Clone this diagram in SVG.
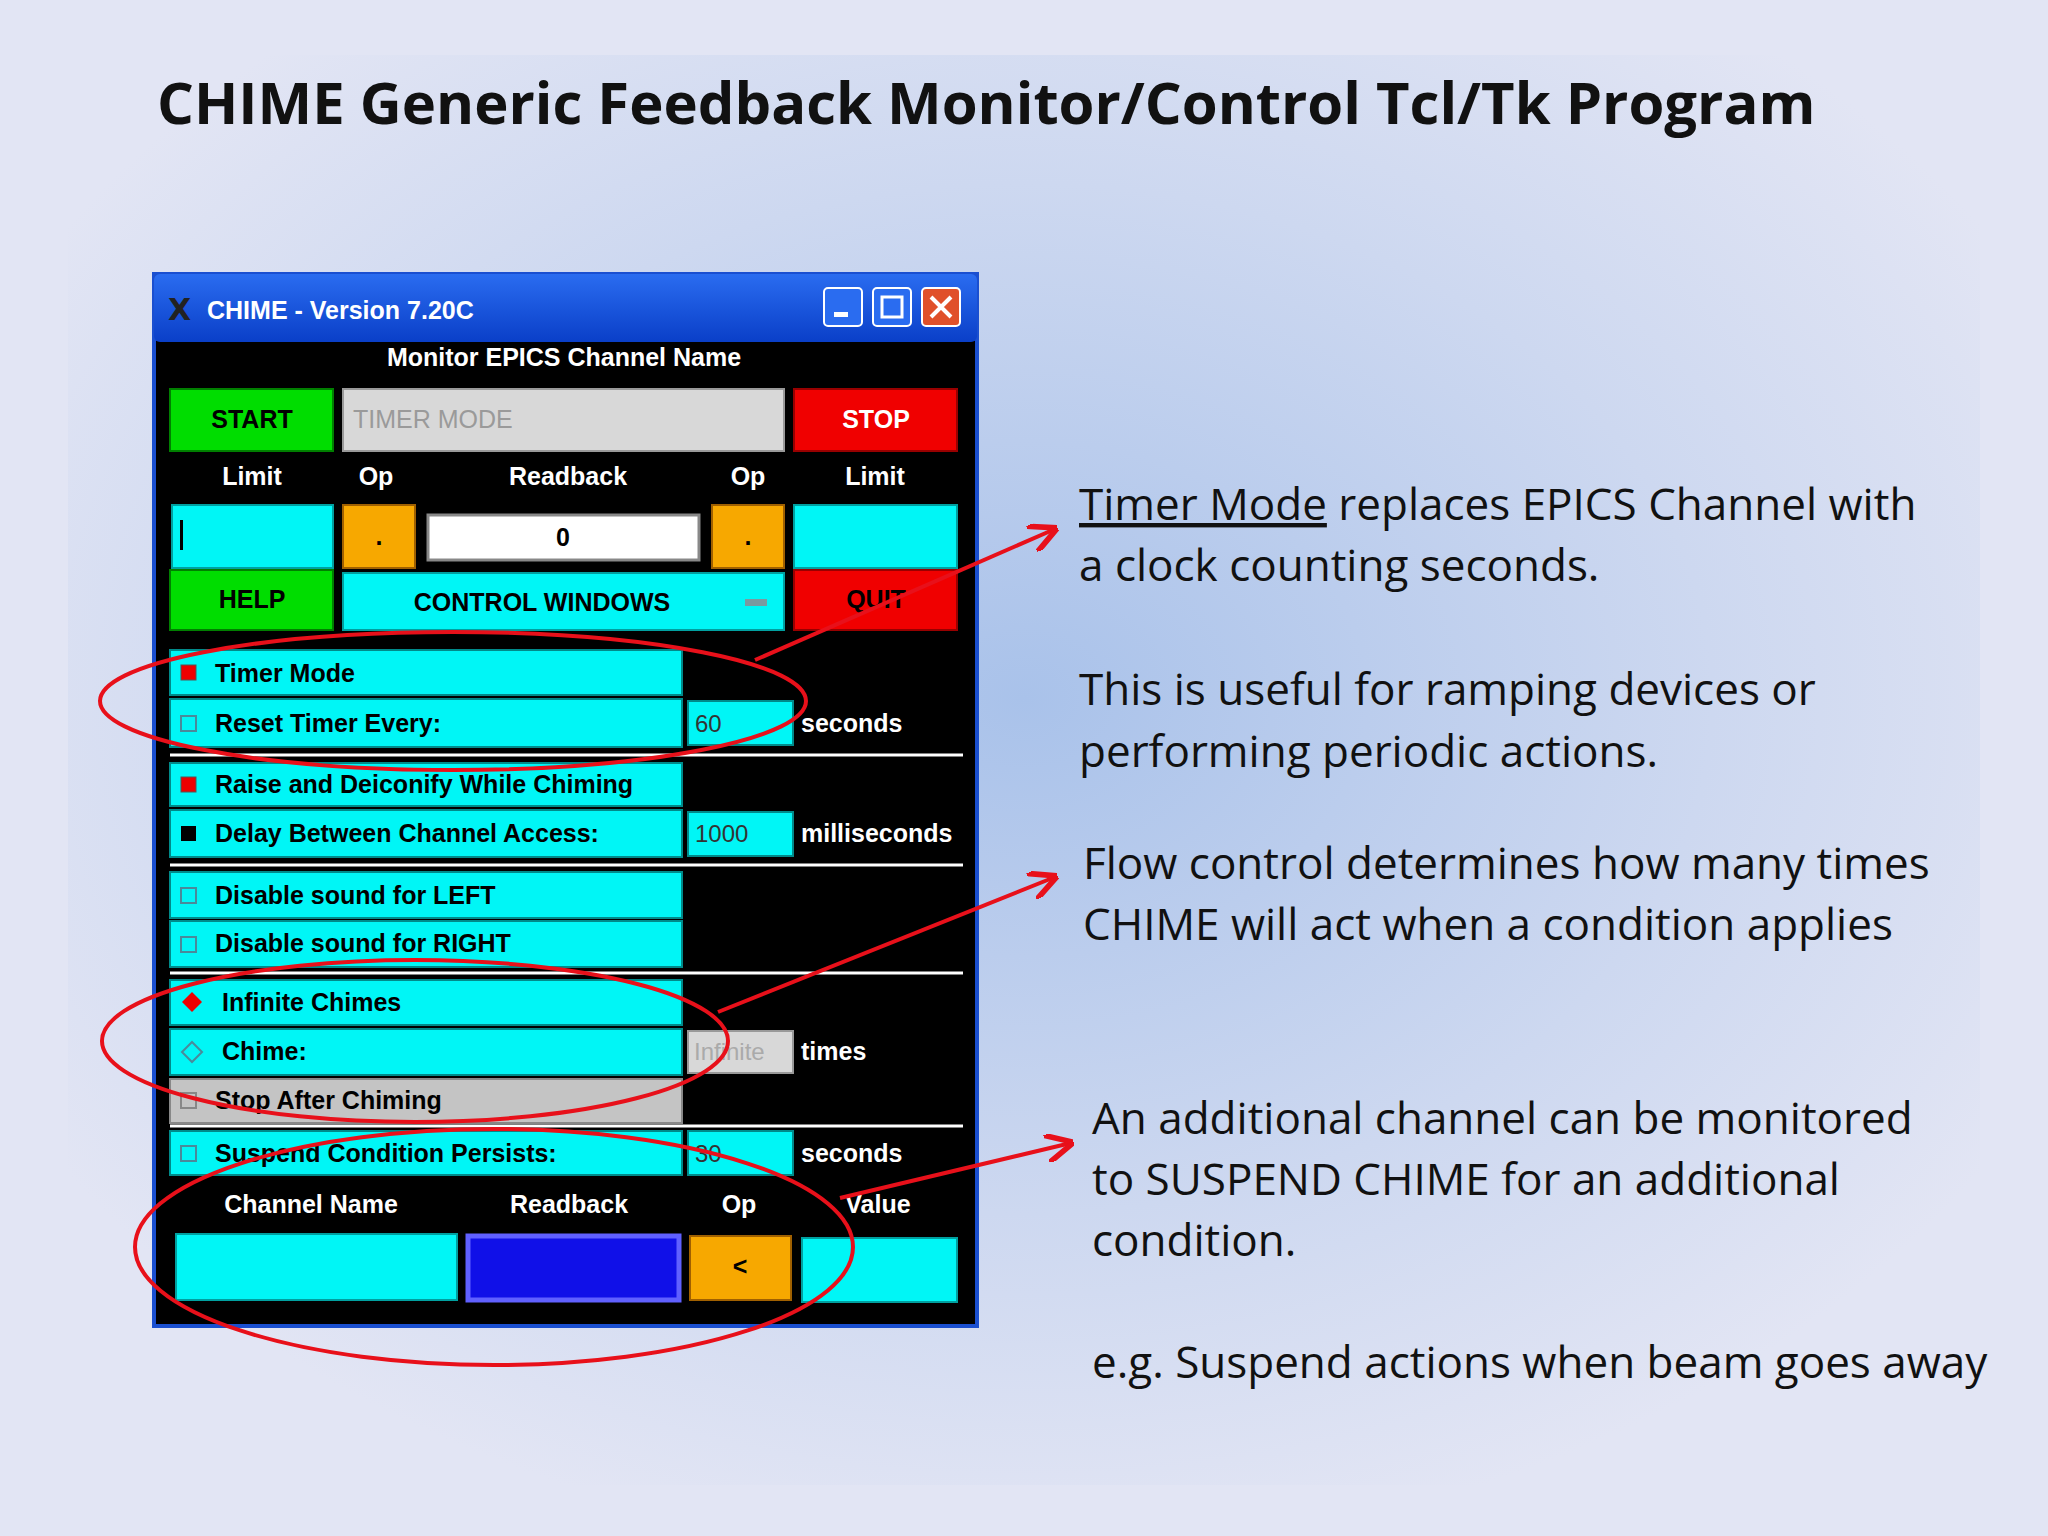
<svg xmlns="http://www.w3.org/2000/svg" width="2048" height="1536" viewBox="0 0 2048 1536">
<defs>
<radialGradient id="bg" cx="0.5" cy="0.45" r="0.6">
<stop offset="0" stop-color="#a9c2ea"/><stop offset="0.6" stop-color="#cdd8f0"/><stop offset="1" stop-color="#e2e5f4"/>
</radialGradient>
<linearGradient id="tb" x1="0" y1="0" x2="0" y2="1"><stop offset="0" stop-color="#2a6cf0"/><stop offset="1" stop-color="#0a3fc8"/></linearGradient>
<marker id="ah" viewBox="0 0 10 10" refX="9" refY="5" markerWidth="7" markerHeight="7" orient="auto"><path d="M0,0 L10,5 L0,10" fill="none" stroke="#e8101a" stroke-width="2"/></marker>
<style>
.w{font-family:"Liberation Sans",Arial,sans-serif;font-weight:bold;font-size:25px;fill:#fff}
.k{font-family:"Liberation Sans",Arial,sans-serif;font-weight:bold;font-size:25px;fill:#000}
.cy{fill:#00f6f6;stroke:#00a0a0;stroke-width:2}
.or{fill:#f7a800;stroke:#a06000;stroke-width:2}
.gr{fill:#00dd00;stroke:#008000;stroke-width:2}
.rd{fill:#f00000;stroke:#900;stroke-width:2}
.cb{fill:#00f6f6;stroke:#008a8a;stroke-width:2}
.t{font-family:"Open Sans","Noto Sans",sans-serif;font-size:44px;fill:#111}
.sep{stroke:#fff;stroke-width:3}
.el{fill:none;stroke:#e8101a;stroke-width:4}
.ar{fill:none;stroke:#e8101a;stroke-width:4;marker-end:url(#ah)}
</style>
</defs>
<rect width="2048" height="1536" fill="#e2e5f4"/>
<rect x="68" y="55" width="1912" height="1430" fill="url(#bg)"/>
<text x="157" y="124" font-family="'Open Sans','Noto Sans',sans-serif" font-weight="bold" font-size="58" fill="#111">CHIME Generic Feedback Monitor/Control Tcl/Tk Program</text>

<g id="window">
<rect x="154" y="274" width="823" height="1052" fill="#000" stroke="#1a4fd0" stroke-width="4"/>
<rect x="154" y="274" width="823" height="68" rx="6" fill="url(#tb)"/>
<text x="168" y="320" font-family="'DejaVu Sans',sans-serif" font-weight="bold" font-size="30" fill="#222">X</text>
<text x="207" y="319" class="w" font-size="27">CHIME  -  Version 7.20C</text>
<rect x="824" y="288" width="38" height="38" rx="4" fill="#2a6cf0" stroke="#fff" stroke-width="2"/><rect x="834" y="312" width="14" height="5" fill="#fff"/>
<rect x="873" y="288" width="38" height="38" rx="4" fill="#2a6cf0" stroke="#fff" stroke-width="2"/><rect x="882" y="297" width="20" height="20" fill="none" stroke="#fff" stroke-width="3"/>
<rect x="922" y="288" width="38" height="38" rx="4" fill="#e0502a" stroke="#fff" stroke-width="2"/><path d="M931,297 L951,317 M951,297 L931,317" stroke="#fff" stroke-width="4"/>
<text x="564" y="366" class="w" text-anchor="middle">Monitor EPICS Channel Name</text>
</g>

<g id="top-buttons">
<rect x="170" y="389" width="163" height="62" class="gr"/><text x="252" y="428" class="k" text-anchor="middle">START</text>
<rect x="343" y="389" width="441" height="62" fill="#d8d8d8" stroke="#999" stroke-width="2"/><text x="353" y="428" font-family="'Liberation Sans',sans-serif" font-size="25" fill="#9a9a9a">TIMER MODE</text>
<rect x="794" y="389" width="163" height="62" class="rd"/><text x="876" y="428" class="w" text-anchor="middle" fill="#ffd0d0">STOP</text>
<text x="252" y="485" class="w" text-anchor="middle">Limit</text>
<text x="376" y="485" class="w" text-anchor="middle">Op</text>
<text x="568" y="485" class="w" text-anchor="middle">Readback</text>
<text x="748" y="485" class="w" text-anchor="middle">Op</text>
<text x="875" y="485" class="w" text-anchor="middle">Limit</text>
<rect x="172" y="505" width="161" height="63" class="cy"/><rect x="180" y="520" width="3" height="30" fill="#000"/>
<rect x="343" y="505" width="72" height="63" class="or"/><text x="379" y="545" class="k" text-anchor="middle">.</text>
<rect x="428" y="515" width="271" height="45" fill="#fff" stroke="#888" stroke-width="3"/><text x="563" y="546" class="k" text-anchor="middle">0</text>
<rect x="712" y="505" width="72" height="63" class="or"/><text x="748" y="545" class="k" text-anchor="middle">.</text>
<rect x="794" y="505" width="163" height="63" class="cy"/>
<rect x="170" y="570" width="163" height="60" class="gr"/><text x="252" y="608" class="k" text-anchor="middle">HELP</text>
<rect x="343" y="573" width="441" height="57" class="cy"/><text x="542" y="611" class="k" text-anchor="middle">CONTROL WINDOWS</text><rect x="745" y="599" width="22" height="7" fill="#7a9aa0"/>
<rect x="794" y="570" width="163" height="60" class="rd"/><text x="876" y="608" class="k" text-anchor="middle">QUIT</text>
</g>

<g id="options">
<rect x="170" y="650" width="512" height="45" class="cb"/><rect x="181" y="665" width="15" height="15" fill="#e00" stroke="#555"/><text x="215" y="682" class="k">Timer Mode</text>
<rect x="170" y="699" width="512" height="48" class="cb"/><rect x="181" y="716" width="15" height="15" fill="none" stroke="#4a8a9a" stroke-width="2"/><text x="215" y="732" class="k">Reset Timer Every:</text>
<rect x="688" y="701" width="105" height="44" class="cb"/><text x="695" y="732" font-family="'Liberation Sans',sans-serif" font-size="24" fill="#333">60</text><text x="801" y="732" class="w">seconds</text>
<line x1="170" y1="755" x2="963" y2="755" class="sep"/>
<rect x="170" y="763" width="512" height="43" class="cb"/><rect x="181" y="777" width="15" height="15" fill="#e00" stroke="#555"/><text x="215" y="793" class="k">Raise and Deiconify While Chiming</text>
<rect x="170" y="810" width="512" height="47" class="cb"/><rect x="181" y="826" width="15" height="15" fill="#000"/><text x="215" y="842" class="k">Delay Between Channel Access:</text>
<rect x="688" y="812" width="105" height="44" class="cb"/><text x="695" y="842" font-family="'Liberation Sans',sans-serif" font-size="24" fill="#333">1000</text><text x="801" y="842" class="w">milliseconds</text>
<line x1="170" y1="865" x2="963" y2="865" class="sep"/>
<rect x="170" y="872" width="512" height="46" class="cb"/><rect x="181" y="888" width="15" height="15" fill="none" stroke="#4a8a9a" stroke-width="2"/><text x="215" y="904" class="k">Disable sound for LEFT</text>
<rect x="170" y="921" width="512" height="46" class="cb"/><rect x="181" y="937" width="15" height="15" fill="none" stroke="#4a8a9a" stroke-width="2"/><text x="215" y="952" class="k">Disable sound for RIGHT</text>
<line x1="170" y1="973" x2="963" y2="973" class="sep"/>
<rect x="170" y="980" width="512" height="45" class="cb"/><path d="M192,992 L202,1002 L192,1012 L182,1002 Z" fill="#e00"/><text x="222" y="1011" class="k">Infinite Chimes</text>
<rect x="170" y="1029" width="512" height="46" class="cb"/><path d="M192,1042 L202,1052 L192,1062 L182,1052 Z" fill="none" stroke="#4a8a9a" stroke-width="2"/><text x="222" y="1060" class="k">Chime:</text>
<rect x="688" y="1031" width="105" height="42" fill="#d8d8d8" stroke="#999" stroke-width="2"/><text x="694" y="1060" font-family="'Liberation Sans',sans-serif" font-size="24" fill="#aaa">Infinite</text><text x="801" y="1060" class="w">times</text>
<rect x="170" y="1079" width="512" height="44" fill="#c4c4c4" stroke="#888" stroke-width="2"/><rect x="181" y="1093" width="15" height="15" fill="none" stroke="#888" stroke-width="2"/><text x="215" y="1109" class="k" fill="#333">Stop After Chiming</text>
<line x1="170" y1="1126" x2="963" y2="1126" class="sep"/>
<rect x="170" y="1131" width="512" height="44" class="cb"/><rect x="181" y="1146" width="15" height="15" fill="none" stroke="#4a8a9a" stroke-width="2"/><text x="215" y="1162" class="k">Suspend Condition Persists:</text>
<rect x="688" y="1131" width="105" height="44" class="cb"/><text x="695" y="1162" font-family="'Liberation Sans',sans-serif" font-size="24" fill="#333">30</text><text x="801" y="1162" class="w">seconds</text>
</g>

<g id="suspend">
<text x="311" y="1213" class="w" text-anchor="middle">Channel Name</text>
<text x="569" y="1213" class="w" text-anchor="middle">Readback</text>
<text x="739" y="1213" class="w" text-anchor="middle">Op</text>
<text x="878" y="1213" class="w" text-anchor="middle">Value</text>
<rect x="176" y="1234" width="281" height="66" class="cy"/>
<rect x="468" y="1236" width="211" height="64" fill="#1010e8" stroke="#6060ff" stroke-width="5"/>
<rect x="690" y="1236" width="101" height="64" class="or"/><text x="740" y="1275" class="k" text-anchor="middle" font-size="20">&lt;</text>
<rect x="802" y="1238" width="155" height="64" class="cy"/>
</g>

<g id="annotations">
<ellipse cx="453" cy="701" rx="353" ry="69" class="el"/>
<ellipse cx="415" cy="1041" rx="313" ry="81" class="el"/>
<ellipse cx="494" cy="1247" rx="359" ry="118" class="el"/>
</g>
<g id="connectors">
<line x1="755" y1="660" x2="1055" y2="529" class="ar"/>
<line x1="718" y1="1012" x2="1055" y2="877" class="ar"/>
<line x1="840" y1="1198" x2="1071" y2="1143" class="ar"/>
</g>

<g id="text">
<text x="1079" y="520" class="t"><tspan text-decoration="underline">Timer Mode</tspan> replaces EPICS Channel with</text>
<text x="1079" y="581" class="t">a clock counting seconds.</text>
<text x="1079" y="705" class="t">This is useful for ramping devices or</text>
<text x="1079" y="767" class="t">performing periodic actions.</text>
<text x="1083" y="879" class="t">Flow control determines how many times</text>
<text x="1083" y="940" class="t">CHIME will act when a condition applies</text>
<text x="1092" y="1134" class="t">An additional channel can be monitored</text>
<text x="1092" y="1195" class="t">to SUSPEND CHIME for an additional</text>
<text x="1092" y="1256" class="t">condition.</text>
<text x="1092" y="1378" class="t">e.g. Suspend actions when beam goes away</text>
</g>
</svg>
